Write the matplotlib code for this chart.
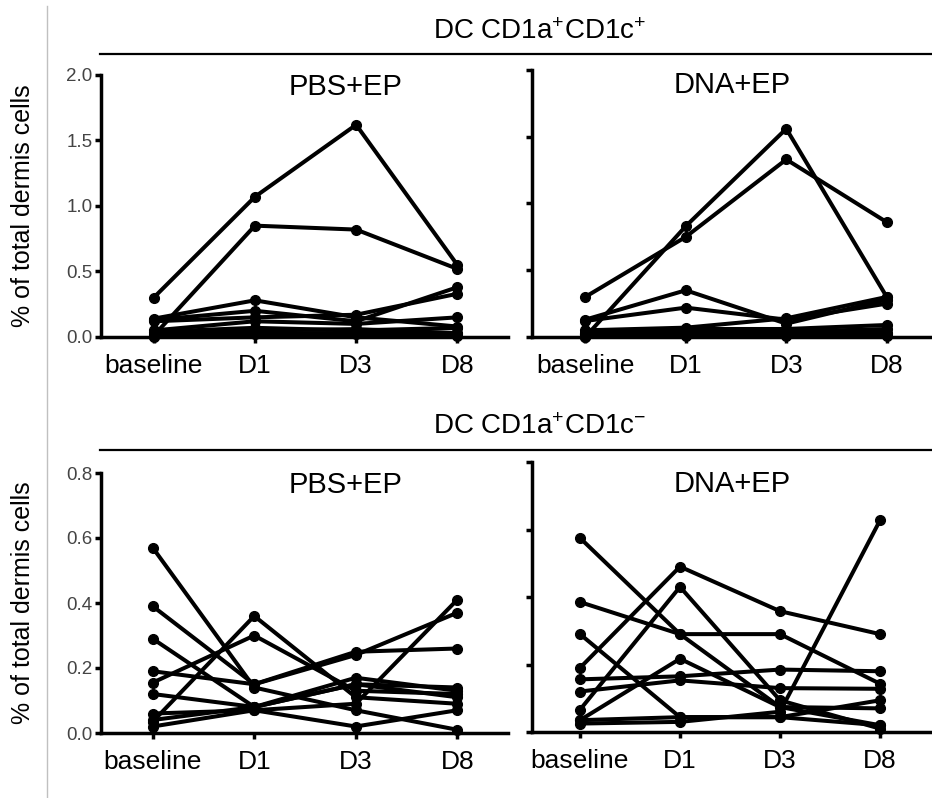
import numpy as np
import matplotlib
matplotlib.use('Agg')
from matplotlib import pyplot as plt
from matplotlib.lines import Line2D

plt.rcParams['font.family'] = ['Liberation Sans', 'DejaVu Sans']
plt.rcParams['mathtext.fontset'] = 'custom'
plt.rcParams['mathtext.rm'] = 'Liberation Sans'
plt.rcParams['mathtext.it'] = 'Liberation Sans'

# categorias (dias)
dias = ['baseline', 'D1', 'D3', 'D8']

# DC CD1a+CD1c+ , cada fila es un donante
pbs_cd1c_pos = [
    [0.30, 1.07, 1.62, 0.55],
    [0.01, 0.85, 0.82, 0.52],
    [0.14, 0.28, 0.15, 0.08],
    [0.13, 0.20, 0.12, 0.38],
    [0.12, 0.15, 0.17, 0.33],
    [0.05, 0.12, 0.10, 0.15],
    [0.04, 0.07, 0.05, 0.07],
    [0.02, 0.05, 0.06, 0.03],
    [0.01, 0.03, 0.03, 0.02],
    [0.00, 0.02, 0.02, 0.01],
]
dna_cd1c_pos = [
    [0.30, 0.75, 1.33, 0.86],
    [0.00, 0.83, 1.56, 0.30],
    [0.13, 0.35, 0.10, 0.28],
    [0.12, 0.22, 0.13, 0.25],
    [0.05, 0.07, 0.14, 0.30],
    [0.03, 0.06, 0.06, 0.09],
    [0.02, 0.04, 0.04, 0.06],
    [0.01, 0.02, 0.03, 0.03],
    [0.00, 0.01, 0.02, 0.01],
    [0.02, 0.03, 0.01, 0.02],
]

# DC CD1a+CD1c-
pbs_cd1c_neg = [
    [0.57, 0.14, 0.07, 0.01],
    [0.39, 0.15, 0.25, 0.26],
    [0.29, 0.08, 0.17, 0.13],
    [0.19, 0.15, 0.24, 0.37],
    [0.155, 0.30, 0.13, 0.12],
    [0.12, 0.08, 0.15, 0.14],
    [0.06, 0.07, 0.09, 0.41],
    [0.035, 0.36, 0.11, 0.09],
    [0.02, 0.07, 0.02, 0.07],
    [0.04, 0.08, 0.15, 0.11],
]
dna_cd1c_neg = [
    [0.575, 0.29, 0.074, 0.02],
    [0.385, 0.29, 0.29, 0.143],
    [0.29, 0.044, 0.044, 0.094],
    [0.19, 0.49, 0.358, 0.29],
    [0.066, 0.43, 0.094, 0.01],
    [0.156, 0.165, 0.185, 0.18],
    [0.12, 0.153, 0.13, 0.128],
    [0.035, 0.217, 0.074, 0.07],
    [0.025, 0.03, 0.06, 0.627],
    [0.035, 0.044, 0.044, 0.02],
]

W, H = 932, 798
fig = plt.figure(figsize=(W / 100, H / 100), dpi=100)


def px(x0, x1, ytop, ybot):
    # convierte pixeles a fracciones de la figura
    return [x0 / W, 1 - ybot / H, (x1 - x0) / W, (ybot - ytop) / H]


def panel(rect, datos, ymax, paso, titulo, tx, ty, xlim, etiquetas=True):
    ax = fig.add_axes(rect)
    x = np.arange(len(dias))
    for fila in datos:
        ax.plot(x, fila, color='black', lw=2.9, marker='o', ms=7,
                solid_joinstyle='round', clip_on=False, zorder=3)
    ax.set_xlim(*xlim)
    ax.set_ylim(0, ymax)
    ax.set_yticks(np.arange(0, ymax + paso / 2, paso))
    if etiquetas:
        ax.set_yticklabels([f'{v:.1f}' for v in ax.get_yticks()],
                           fontsize=13.5, color='#444444')
    else:
        ax.set_yticklabels([])
    ax.set_xticks(x)
    ax.set_xticklabels(dias, fontsize=19)
    for s in ['top', 'right']:
        ax.spines[s].set_visible(False)
    for s in ['left', 'bottom']:
        ax.spines[s].set_linewidth(2.5)
    ax.tick_params(axis='y', direction='out', length=4, width=2.5, pad=2)
    ax.tick_params(axis='x', direction='out', length=4, width=2.5, pad=8)
    ax.patch.set_alpha(0)
    ax.text(tx, ty, titulo, transform=ax.transAxes, ha='center',
            va='center', fontsize=21)
    return ax


panel(px(101, 508, 75, 337), pbs_cd1c_pos, 2.0, 0.5, 'PBS+EP', 0.60, 0.955,
      (-0.52, 3.5))
panel(px(532, 932, 70, 337), dna_cd1c_pos, 2.0, 0.5, 'DNA+EP', 0.50, 0.944,
      (-0.53, 3.45), etiquetas=False)
panel(px(101, 508, 473, 733), pbs_cd1c_neg, 0.8, 0.2, 'PBS+EP', 0.60, 0.954,
      (-0.51, 3.5))
panel(px(532, 932, 462, 732), dna_cd1c_neg, 0.8, 0.2, 'DNA+EP', 0.50, 0.918,
      (-0.48, 3.52), etiquetas=False)

# titulos de seccion con linea horizontal
fig.add_artist(Line2D([100 / W, 1.0], [1 - 54 / H, 1 - 54 / H],
                      color='black', lw=1.6))
fig.add_artist(Line2D([100 / W, 1.0], [1 - 450 / H, 1 - 450 / H],
                      color='black', lw=1.6))
fig.text(540 / W, 1 - 32 / H, r'DC CD1a$^{+}$CD1c$^{+}$', ha='center',
         va='center', fontsize=20)
fig.text(540 / W, 1 - 427 / H, r'DC CD1a$^{+}$CD1c$^{-}$', ha='center',
         va='center', fontsize=20)

# linea gris vertical a la izquierda
fig.add_artist(Line2D([47 / W, 47 / W], [0, 1 - 6 / H], color='#c0c0c0',
                      lw=1))

# etiquetas del eje y
fig.text(23 / W, 1 - 206 / H, '% of total dermis cells', rotation=90,
         ha='center', va='center', fontsize=18)
fig.text(23 / W, 1 - 603 / H, '% of total dermis cells', rotation=90,
         ha='center', va='center', fontsize=18)

plt.savefig('out.png', dpi=100)
